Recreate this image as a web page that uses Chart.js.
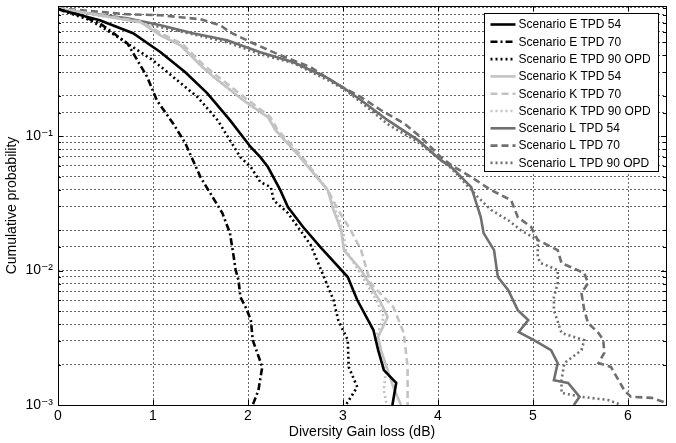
<!DOCTYPE html>
<html><head><meta charset="utf-8">
<script src="https://cdn.jsdelivr.net/npm/chart.js@4.4.1/dist/chart.umd.min.js"></script>
<style>html,body{margin:0;padding:0;background:#fff}#wrap{width:676px;height:443px}</style>
</head><body><div id="wrap"><canvas id="c" width="676" height="443"></canvas></div>
<script>
// ---- Data ----
const seriesLabels = ['Scenario E TPD 54','Scenario E TPD 70','Scenario E TPD 90 OPD',
  'Scenario K TPD 54','Scenario K TPD 70','Scenario K TPD 90 OPD',
  'Scenario L TPD 54','Scenario L TPD 70','Scenario L TPD 90 OPD'];
const xTickValues = [0,1,2,3,4,5,6];
const yTickValues = [0.1, 0.01, 0.001];
const yTickText = ['10\u207B\u00B9','10\u207B\u00B2','10\u207B\u00B3'];

const e54X = [0,0.44,0.79,1.08,1.34,1.57,1.81,2.03,2.13,2.21,2.34,2.42,2.58,2.76,3.05,3.15,3.32,3.37,3.43,3.56,3.52];
const e54Y = [0.880,0.729,0.583,0.421,0.299,0.209,0.1315,0.0828,0.0698,0.0589,0.0397,0.0297,0.0211,0.0150,0.00895,0.00604,0.00361,0.00256,0.00182,0.00146,0.001];
const e70X = [0,0.23,0.44,0.73,0.94,1.04,1.21,1.34,1.50,1.66,1.73,1.81,1.85,1.87,1.90,1.92,1.98,2.03,2.05,2.15,2.11,2.05];
const e70Y = [0.880,0.794,0.692,0.491,0.275,0.185,0.1249,0.0887,0.0496,0.0323,0.0268,0.0190,0.0126,0.0101,0.0085,0.00635,0.00526,0.00428,0.00304,0.00192,0.00129,0.001];
const e90X = [0,0.34,0.55,1.00,1.47,1.68,1.92,2.03,2.13,2.24,2.27,2.42,2.66,2.80,2.90,2.95,3.05,3.06,3.15,3.03];
const e90Y = [0.880,0.729,0.593,0.367,0.195,0.1315,0.0698,0.0589,0.0455,0.0418,0.0334,0.0268,0.0155,0.00895,0.00604,0.00428,0.00304,0.00192,0.00136,0.001];
const k54X = [0,0.55,0.87,1.08,1.29,1.50,1.64,1.95,2.21,2.29,2.53,2.84,2.90,2.98,3.01,3.19,3.40,3.47,3.37,3.40,3.47,3.53,3.61];
const k54Y = [0.895,0.767,0.704,0.563,0.475,0.337,0.275,0.185,0.1384,0.1108,0.0722,0.0397,0.0282,0.0200,0.0142,0.0101,0.00573,0.00451,0.00321,0.00256,0.00182,0.00136,0.001];
const k70X = [0,0.55,0.87,1.10,1.31,1.52,1.67,1.98,2.23,2.31,2.55,2.84,2.95,3.08,3.19,3.29,3.53,3.64,3.68,3.68];
const k70Y = [0.895,0.775,0.712,0.575,0.485,0.345,0.282,0.190,0.1400,0.1120,0.0730,0.0397,0.0282,0.0200,0.0142,0.00807,0.00535,0.00343,0.00192,0.001];
const k90X = [0,0.55,0.87,1.08,1.29,1.50,1.64,1.95,2.21,2.29,2.53,2.84,2.92,3.00,3.03,3.16,3.35,3.43,3.35,3.38,3.45,3.43,3.46];
const k90Y = [0.895,0.767,0.704,0.563,0.475,0.337,0.275,0.185,0.1384,0.1108,0.0722,0.0397,0.0282,0.0200,0.0142,0.0101,0.00604,0.00451,0.00321,0.00256,0.00182,0.00129,0.001];
const l54X = [0,0.73,1.08,1.42,1.78,2.13,2.48,2.84,3.01,3.19,3.47,3.79,4.03,4.14,4.35,4.45,4.48,4.59,4.63,4.74,4.84,4.95,4.85,5.01,5.19,5.26,5.22,5.37,5.49,5.43];
const l54Y = [0.880,0.754,0.668,0.583,0.517,0.421,0.355,0.270,0.228,0.185,0.1315,0.0934,0.0663,0.0589,0.0418,0.0250,0.0190,0.0142,0.00895,0.00716,0.00508,0.00428,0.00349,0.00304,0.00256,0.00205,0.00153,0.00146,0.00115,0.001];
const l70X = [0,0.37,0.73,1.08,1.29,1.50,1.71,1.81,2.03,2.34,2.66,2.87,3.01,3.19,3.40,3.64,3.82,4.03,4.14,4.35,4.56,4.77,4.84,4.98,5.05,5.26,5.30,5.54,5.58,5.51,5.54,5.58,5.69,5.74,5.75,5.69,5.82,5.90,5.96,6.03,6.25,6.38];
const l70Y = [0.895,0.850,0.807,0.794,0.767,0.741,0.668,0.593,0.500,0.400,0.326,0.261,0.228,0.195,0.156,0.1249,0.0983,0.0698,0.0609,0.0496,0.0397,0.0334,0.0250,0.0211,0.01686,0.0142,0.01137,0.00958,0.00807,0.00680,0.00508,0.00407,0.00343,0.00304,0.00244,0.00205,0.00192,0.00153,0.00129,0.00115,0.00113,0.00105];
const l90X = [0,0.73,1.08,1.42,1.78,2.13,2.48,2.84,3.01,3.19,3.47,3.79,4.03,4.14,4.42,4.56,4.74,4.87,5.05,5.05,5.08,5.26,5.26,5.22,5.22,5.30,5.54,5.51,5.33,5.30,5.30,5.51,5.79,5.93];
const l90Y = [0.880,0.741,0.646,0.573,0.500,0.407,0.349,0.261,0.224,0.179,0.1228,0.0902,0.0663,0.0578,0.0352,0.0282,0.0237,0.0200,0.01686,0.0126,0.01137,0.0101,0.00807,0.00635,0.00508,0.00343,0.00304,0.00256,0.00205,0.00153,0.00123,0.00115,0.00109,0.001];

const seriesX = [e54X,e70X,e90X,k54X,k70X,k90X,l54X,l70X,l90X];
const seriesY = [e54Y,e70Y,e90Y,k54Y,k70Y,k90Y,l54Y,l70Y,l90Y];

// ---- Styles ----
const FONT = "'Liberation Sans', Arial, 'DejaVu Sans', sans-serif";
const groupColors = ['#000000', '#c3c3c3', '#6f6f6f'];
const dashes = [[], [7,3,2,3], [2,3]];
const kDashes = [[], [7,4], [2,3]];
const GRID = 'rgba(0,0,0,0.6)';

const datasets = seriesLabels.map((lab, i) => {
  const g = Math.floor(i / 3), s = i % 3;
  return {
    label: lab,
    data: seriesX[i].map((x, j) => ({x: x, y: seriesY[i][j]})),
    borderColor: groupColors[g],
    backgroundColor: groupColors[g],
    borderWidth: 2.6,
    borderDash: g === 0 ? dashes[s] : kDashes[s],
    pointRadius: 0,
    tension: 0,
    fill: false
  };
});

const framePlugin = {
  id: 'frame',
  afterDraw(chart) {
    const c = chart.ctx, a = chart.chartArea;
    const xs = chart.scales.x, ys = chart.scales.y;
    c.save();
    c.strokeStyle = '#000'; c.lineWidth = 1; c.setLineDash([]);
    c.strokeRect(Math.round(a.left)+0.5, Math.round(a.top)+0.5, Math.round(a.right-a.left), Math.round(a.bottom-a.top));
    c.beginPath();
    xTickValues.forEach(v => {
      const px = Math.round(xs.getPixelForValue(v)) + 0.5;
      c.moveTo(px, a.bottom); c.lineTo(px, a.bottom - 5);
      c.moveTo(px, a.top); c.lineTo(px, a.top + 5);
    });
    ys.ticks.forEach(t => {
      const v = t.value;
      const lg = Math.log10(v);
      const major = Math.abs(lg - Math.round(lg)) < 1e-6;
      const len = major ? 5 : 3;
      const py = Math.round(ys.getPixelForValue(v)) + 0.5;
      if (py < a.top + 1 || (py > a.bottom - 1 && !major)) return;
      c.moveTo(a.left, py); c.lineTo(a.left + len, py);
      c.moveTo(a.right, py); c.lineTo(a.right - len, py);
    });
    c.stroke();

    // legend box
    const bw = 174, bh = 158;
    const bx = Math.round(a.right - 8 - bw) + 0.5, by = Math.round(a.top + 7) + 0.5;
    c.fillStyle = '#fff';
    c.fillRect(bx, by, bw, bh);
    c.strokeStyle = '#000'; c.lineWidth = 1;
    c.strokeRect(bx, by, bw, bh);
    c.font = '12px ' + FONT;
    c.textBaseline = 'middle';
    c.textAlign = 'left';
    chart.data.datasets.forEach((d, i) => {
      const yy = by + 11 + i * 17.3;
      c.beginPath();
      c.strokeStyle = d.borderColor; c.lineWidth = d.borderWidth;
      c.setLineDash(d.borderDash);
      c.moveTo(bx + 6, yy); c.lineTo(bx + 31, yy);
      c.stroke();
      c.setLineDash([]);
      c.fillStyle = '#000';
      c.fillText(d.label, bx + 34, yy + 0.5);
    });
    c.restore();
  }
};

new Chart(document.getElementById('c'), {
  type: 'line',
  data: { datasets },
  options: {
    responsive: false,
    animation: false,
    layout: { padding: { left: 0, right: 10, top: 6, bottom: 0 } },
    plugins: { legend: { display: false }, tooltip: { enabled: false } },
    scales: {
      x: {
        type: 'linear', min: 0, max: 6.4,
        ticks: { stepSize: 1, includeBounds: false, color: '#000', font: { family: FONT, size: 14 }, padding: 3, maxRotation: 0 },
        grid: { color: GRID, lineWidth: 1, drawTicks: false },
        border: { display: false, dash: [2, 2] },
        title: { display: true, text: 'Diversity Gain loss (dB)', color: '#000', font: { family: FONT, size: 14 }, padding: { top: 0, bottom: 2 } },
        afterFit(s) { s.height = 38; s.paddingLeft = 0; s.paddingRight = 0; }
      },
      y: {
        type: 'logarithmic', min: 0.001, max: 0.93,
        ticks: {
          autoSkip: false, color: '#000', font: { family: FONT, size: 14 }, padding: 5,
          callback(v) {
            for (let i = 0; i < yTickValues.length; i++) {
              if (Math.abs(v - yTickValues[i]) / yTickValues[i] < 1e-6) return yTickText[i];
            }
            return '';
          }
        },
        grid: { color: GRID, lineWidth: 1, drawTicks: false },
        border: { display: false, dash: [2, 2] },
        title: { display: true, text: 'Cumulative probability', color: '#000', font: { family: FONT, size: 14 }, padding: { top: 4, bottom: 0 } },
        afterFit(s) { s.width = 58; s.paddingTop = 0; s.paddingBottom = 0; }
      }
    }
  },
  plugins: [framePlugin]
});
</script>
</body></html>
